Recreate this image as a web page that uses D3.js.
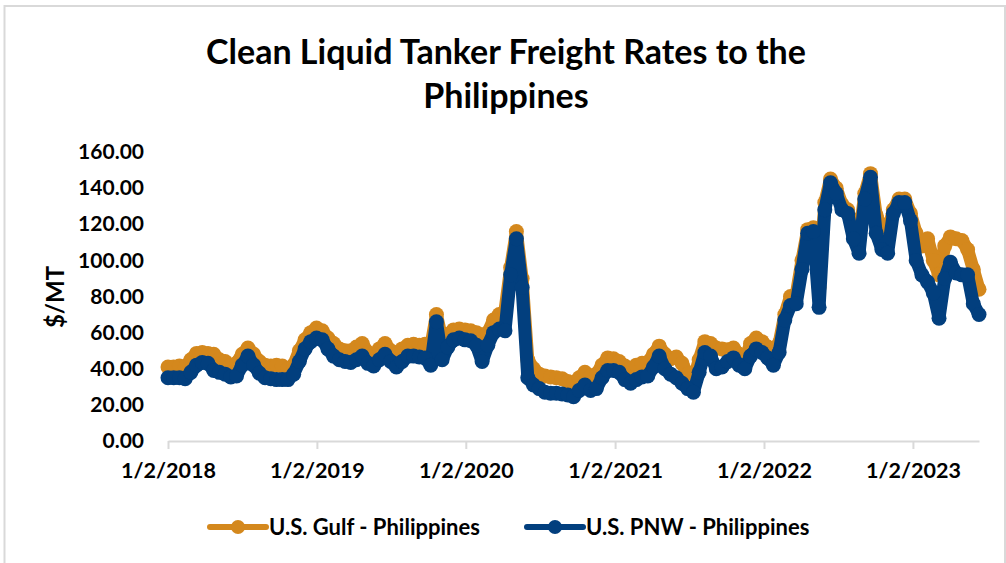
<!DOCTYPE html>
<html>
<head>
<meta charset="utf-8">
<script src="https://cdn.jsdelivr.net/npm/d3@7"></script>
<style>
    body { margin: 0; background: #ffffff; }
    #chart text { font-family: Lato, "Open Sans", sans-serif; font-weight: bold; fill: #000; }
</style>
</head>
<body>
<div id="chart"></div>
<script>
// Biweekly observations starting 1/2/2018 ($/MT)
const startDate = new Date(Date.UTC(2018, 0, 2));
const stepDays = 14;

const gulfRates = [
    41, 41, 41.5, 41, 45, 48.5, 49, 48.5, 48, 45,
    44, 42, 43, 48, 51.5, 48, 44, 42, 41.5, 42,
    41.5, 40, 42, 50, 56, 60, 62.5, 61, 57, 54,
    51, 50, 50, 52, 54, 49, 47, 51, 54, 50,
    48.5, 51, 53, 53.5, 53, 53.5, 52, 70, 56, 59,
    61.5, 62, 61.5, 61, 60, 53, 60, 67, 70, 72,
    96, 116, 90, 45, 40, 37, 36, 35.5, 35, 34.5,
    33, 32, 35, 38, 36, 37, 42, 46, 45.5, 44,
    41.5, 40, 42, 43, 43.5, 48, 52.5, 48, 45.5, 46.5,
    43, 37, 33, 45, 55, 54, 51.5, 51, 50.5, 51.5,
    48, 44, 54, 57, 55, 52, 49.5, 54, 70, 80,
    81, 100, 117, 118, 85, 132, 145, 140, 131, 128,
    118, 112, 137, 148, 125, 118, 115, 128, 134, 134,
    126, 115, 108, 112, 100, 92, 108, 113, 112, 111,
    106, 95, 84
];

const pnwRates = [
    35, 35, 35, 34.5, 38, 42, 43.5, 43, 39, 38,
    37, 35.5, 36, 42, 47, 42, 37.5, 35, 34.5, 34,
    34, 34, 37, 44, 51, 55, 57, 56, 51, 47,
    45, 44, 43.5, 45, 47, 43, 41.5, 45, 48, 44,
    41, 44, 47, 47, 46.5, 46, 42, 66, 45, 52,
    56, 57, 56, 55.5, 53, 44, 53, 60, 62, 61,
    92, 112, 85, 35, 31, 29, 27, 26.5, 26.5, 26,
    25.5, 24.5, 28, 31, 28, 29, 35, 39, 39, 38,
    34, 32, 34, 35.5, 36, 41, 47, 40, 37, 35,
    32, 29, 27, 38, 49, 47, 40, 41, 44, 46,
    42, 40, 47, 51, 49, 46, 42, 49, 67, 75,
    76, 95, 115, 116, 74, 128, 143, 137, 128, 126,
    112, 104, 134, 146, 115, 106, 104, 126, 132, 132,
    122, 100, 92, 88, 82, 68, 90, 99, 93, 92,
    92, 76, 70
];

const seriesNames = ["U.S. Gulf - Philippines", "U.S. PNW - Philippines"];
const seriesColors = ["#d4881d", "#023f7e"];
const yTicks = [0, 20, 40, 60, 80, 100, 120, 140, 160];
const xTicks = [2018, 2019, 2020, 2021, 2022, 2023].map(y => new Date(Date.UTC(y, 0, 2)));
const endDate = new Date(Date.UTC(2023, 5, 13));

function drawChart() {
    const width = 1006;
    const height = 563;
    const plot = { left: 168, right: 979, top: 152, bottom: 441 };

    const svg = d3.select("#chart")
        .append("svg")
        .attr("width", width)
        .attr("height", height);

    // Chart frame
    svg.append("rect")
        .attr("x", 4.5)
        .attr("y", 6)
        .attr("width", 1000.5)
        .attr("height", 620)
        .attr("fill", "#ffffff")
        .attr("stroke", "#d9d9d9")
        .attr("stroke-width", 2);

    const xScale = d3.scaleUtc()
        .domain([startDate, endDate])
        .range([plot.left, plot.right]);

    const yScale = d3.scaleLinear()
        .domain([0, 160])
        .range([plot.bottom, plot.top]);

    // X axis
    const xAxis = svg.append("g")
        .attr("transform", `translate(0, ${plot.bottom})`)
        .call(d3.axisBottom(xScale)
            .tickValues(xTicks)
            .tickFormat(d3.utcFormat("%-m/%-d/%Y"))
            .tickSize(8)
            .tickSizeOuter(0)
            .tickPadding(14));
    xAxis.select(".domain").attr("stroke", "#d9d9d9").attr("stroke-width", 2);
    xAxis.selectAll(".tick line").attr("stroke", "#d9d9d9").attr("stroke-width", 2);
    xAxis.selectAll(".tick text").style("font-size", "21.5px");

    // Y axis (labels only)
    const yAxis = svg.append("g")
        .attr("transform", `translate(${plot.left}, 0)`)
        .call(d3.axisLeft(yScale)
            .tickValues(yTicks)
            .tickFormat(d3.format(".2f"))
            .tickSize(0)
            .tickPadding(24));
    yAxis.select(".domain").remove();
    yAxis.selectAll(".tick text").style("font-size", "21px");

    // Series: thick line plus dense markers
    const allSeries = [gulfRates, pnwRates];
    const dateAt = i => d3.utcDay.offset(startDate, i * stepDays);
    const line = d3.line()
        .x((d, i) => xScale(dateAt(i)))
        .y(d => yScale(d));

    allSeries.forEach((values, s) => {
        svg.append("path")
            .datum(values)
            .attr("fill", "none")
            .attr("stroke", seriesColors[s])
            .attr("stroke-width", 13)
            .attr("stroke-linejoin", "round")
            .attr("stroke-linecap", "round")
            .attr("d", line);

        svg.append("g")
            .selectAll("circle")
            .data(values)
            .enter()
            .append("circle")
            .attr("cx", (d, i) => xScale(dateAt(i)))
            .attr("cy", d => yScale(d))
            .attr("r", 7.5)
            .attr("fill", seriesColors[s]);
    });

    // Axis title
    svg.append("text")
        .attr("transform", "rotate(-90)")
        .attr("x", -297)
        .attr("y", 64)
        .attr("text-anchor", "middle")
        .style("font-size", "24px")
        .text("$/MT");

    // Title
    svg.append("text")
        .attr("x", 506)
        .attr("y", 64)
        .attr("text-anchor", "middle")
        .style("font-size", "34px")
        .text("Clean Liquid Tanker Freight Rates to the");
    svg.append("text")
        .attr("x", 506)
        .attr("y", 108)
        .attr("text-anchor", "middle")
        .style("font-size", "34px")
        .text("Philippines");

    // Legend
    const legendX = [210, 527];
    seriesNames.forEach((name, s) => {
        const g = svg.append("g").attr("transform", `translate(${legendX[s]}, 527)`);
        g.append("line")
            .attr("x1", 0).attr("x2", 56)
            .attr("y1", 0).attr("y2", 0)
            .attr("stroke", seriesColors[s])
            .attr("stroke-width", 6)
            .attr("stroke-linecap", "round");
        g.append("circle")
            .attr("cx", 28).attr("cy", 0)
            .attr("r", 7)
            .attr("fill", seriesColors[s]);
        g.append("text")
            .attr("x", 59)
            .attr("y", 8)
            .style("font-size", "22px")
            .text(name);
    });
}

drawChart();
</script>
</body>
</html>
